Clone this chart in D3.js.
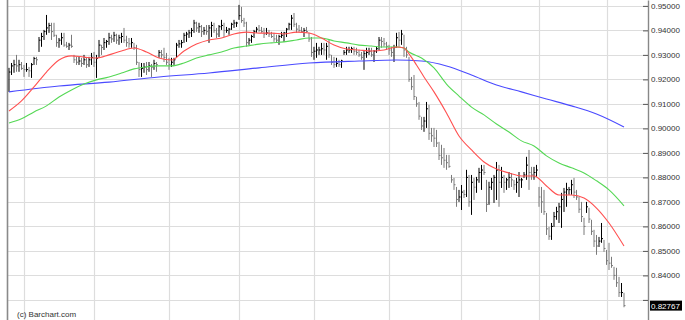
<!DOCTYPE html>
<html>
<head>
<meta charset="utf-8">
<title>Barchart</title>
<style>
  body { margin: 0; background: #fff; }
  svg { display: block; }
  text { font-family: "Liberation Sans", Arial, sans-serif; }
</style>
</head>
<body>
<script src="https://d3js.org/d3.v7.min.js"></script>
<script>
var width = 685, height = 320;

// daily bars: high / low / close
var highs = [
  .9247,.9267,.9280,.9300,.9280,.9271,.9259,.9267,.9251,.9267,
  .9292,.9292,.9373,.9390,.9402,.9463,.9431,.9431,.9431,.9382,
  .9369,.9390,.9390,.9353,.9349,.9382,.9300,.9292,.9292,.9288,
  .9300,.9288,.9292,.9308,.9312,.9300,.9361,.9341,.9369,.9361,
  .9390,.9382,.9394,.9386,.9382,.9390,.9410,.9378,.9369,.9369,
  .9349,.9341,.9271,.9267,.9267,.9271,.9271,.9263,.9280,.9271,
  .9320,.9320,.9329,.9308,.9288,.9288,.9288,.9349,.9361,.9361,
  .9390,.9394,.9402,.9410,.9443,.9435,.9431,.9422,.9414,.9422,
  .9422,.9435,.9431,.9410,.9422,.9443,.9431,.9414,.9410,.9431,
  .9443,.9435,.9504,.9496,.9451,.9435,.9369,.9382,.9402,.9414,
  .9422,.9414,.9410,.9410,.9402,.9394,.9390,.9382,.9382,.9394,
  .9394,.9410,.9431,.9463,.9471,.9431,.9422,.9414,.9410,.9414,
  .9390,.9373,.9333,.9349,.9333,.9349,.9349,.9349,.9361,.9300,
  .9292,.9288,.9280,.9280,.9320,.9333,.9333,.9333,.9333,.9329,
  .9320,.9312,.9320,.9329,.9329,.9329,.9320,.9333,.9373,.9373,
  .9369,.9353,.9341,.9333,.9341,.9390,.9394,.9402,.9382,.9333,
  .9292,.9210,.9218,.9129,.9108,.9047,.9047,.9108,.9096,.9002,
  .9002,.8994,.8945,.8933,.8920,.8892,.8892,.8810,.8798,.8761,
  .8749,.8769,.8749,.8831,.8810,.8810,.8798,.8802,.8839,.8851,
  .8851,.8790,.8782,.8798,.8810,.8863,.8851,.8843,.8810,.8798,
  .8822,.8818,.8790,.8798,.8822,.8798,.8822,.8884,.8912,.8843,
  .8843,.8851,.8761,.8761,.8749,.8655,.8598,.8614,.8659,.8680,
  .8696,.8737,.8757,.8778,.8761,.8790,.8798,.8749,.8720,.8700,
  .8635,.8700,.8676,.8627,.8586,.8565,.8557,.8614,.8545,.8504,
  .8533,.8476,.8435,.8431,.8394,.8369,.8329
];
var lows = [
  .9149,.9218,.9227,.9231,.9231,.9239,.9210,.9231,.9210,.9206,
  .9259,.9259,.9312,.9333,.9361,.9382,.9390,.9361,.9373,.9333,
  .9329,.9341,.9333,.9329,.9320,.9329,.9267,.9259,.9259,.9251,
  .9259,.9247,.9251,.9259,.9251,.9206,.9288,.9300,.9320,.9329,
  .9341,.9349,.9353,.9345,.9341,.9349,.9349,.9333,.9329,.9329,
  .9320,.9259,.9210,.9210,.9227,.9218,.9231,.9210,.9239,.9231,
  .9288,.9288,.9271,.9259,.9239,.9251,.9259,.9288,.9329,.9329,
  .9349,.9353,.9369,.9373,.9390,.9394,.9390,.9373,.9382,.9382,
  .9349,.9373,.9390,.9369,.9373,.9402,.9373,.9390,.9382,.9402,
  .9410,.9414,.9443,.9431,.9414,.9333,.9341,.9349,.9369,.9390,
  .9394,.9390,.9369,.9382,.9373,.9369,.9353,.9349,.9341,.9369,
  .9353,.9373,.9402,.9402,.9414,.9390,.9394,.9390,.9373,.9390,
  .9353,.9292,.9280,.9288,.9300,.9300,.9300,.9280,.9288,.9259,
  .9247,.9251,.9251,.9247,.9300,.9300,.9308,.9308,.9300,.9300,
  .9292,.9280,.9239,.9288,.9300,.9292,.9271,.9308,.9320,.9329,
  .9333,.9320,.9300,.9292,.9271,.9329,.9333,.9341,.9292,.9288,
  .9190,.9157,.9116,.9088,.9035,.8994,.8986,.9002,.8953,.8945,
  .8924,.8924,.8871,.8851,.8839,.8831,.8839,.8778,.8749,.8680,
  .8700,.8667,.8716,.8720,.8680,.8647,.8708,.8737,.8778,.8749,
  .8810,.8659,.8688,.8749,.8696,.8708,.8680,.8757,.8737,.8749,
  .8757,.8761,.8749,.8737,.8720,.8757,.8798,.8790,.8749,.8790,
  .8790,.8802,.8680,.8655,.8647,.8565,.8545,.8545,.8598,.8627,
  .8614,.8594,.8659,.8680,.8729,.8729,.8716,.8708,.8655,.8618,
  .8565,.8655,.8614,.8565,.8516,.8484,.8516,.8533,.8496,.8443,
  .8422,.8431,.8382,.8353,.8312,.8312,.8270
];
var closes = [
  .9230,.9255,.9260,.9255,.9260,.9245,.9240,.9240,.9235,.9260,
  .9285,.9280,.9360,.9375,.9395,.9410,.9420,.9395,.9380,.9350,
  .9360,.9370,.9340,.9335,.9340,.9335,.9280,.9270,.9275,.9265,
  .9280,.9260,.9280,.9290,.9270,.9285,.9340,.9330,.9350,.9355,
  .9370,.9365,.9380,.9360,.9370,.9375,.9360,.9350,.9345,.9350,
  .9330,.9270,.9240,.9245,.9250,.9240,.9255,.9250,.9265,.9260,
  .9310,.9300,.9290,.9270,.9260,.9270,.9280,.9340,.9345,.9350,
  .9380,.9385,.9390,.9400,.9430,.9410,.9415,.9395,.9400,.9395,
  .9410,.9420,.9400,.9385,.9415,.9420,.9400,.9400,.9405,.9425,
  .9430,.9430,.9460,.9440,.9430,.9350,.9360,.9375,.9395,.9405,
  .9400,.9395,.9385,.9390,.9385,.9375,.9365,.9360,.9375,.9380,
  .9390,.9405,.9425,.9450,.9425,.9405,.9400,.9395,.9400,.9395,
  .9365,.9310,.9315,.9320,.9320,.9325,.9320,.9335,.9300,.9270,
  .9260,.9265,.9260,.9275,.9310,.9320,.9320,.9325,.9315,.9310,
  .9300,.9290,.9305,.9310,.9315,.9300,.9315,.9325,.9360,.9355,
  .9345,.9335,.9320,.9310,.9330,.9370,.9360,.9385,.9320,.9300,
  .9200,.9170,.9130,.9100,.9050,.9010,.9030,.9080,.8980,.8970,
  .8960,.8940,.8890,.8880,.8870,.8860,.8845,.8790,.8770,.8710,
  .8720,.8740,.8730,.8800,.8700,.8780,.8760,.8790,.8820,.8830,
  .8820,.8690,.8760,.8780,.8800,.8830,.8780,.8800,.8780,.8790,
  .8800,.8790,.8770,.8780,.8790,.8790,.8810,.8850,.8820,.8810,
  .8820,.8830,.8720,.8700,.8660,.8590,.8560,.8600,.8640,.8660,
  .8680,.8710,.8740,.8750,.8750,.8770,.8740,.8720,.8670,.8640,
  .8600,.8680,.8630,.8580,.8540,.8520,.8540,.8550,.8510,.8460,
  .8450,.8440,.8400,.8370,.8330,.8330,.82767
];

// moving averages, [bar, value]
var maRed = [
  [0,.9071],[5,.9112],[10,.9169],[15,.9230],[20,.9279],[25,.9296],[30,.9291],[35,.9287],
  [40,.9300],[45,.9316],[50,.9328],[55,.9312],[60,.9287],[65,.9279],[70,.9316],[75,.9344],
  [80,.9361],[85,.9369],[90,.9385],[95,.9393],[100,.9389],[105,.9389],[110,.9385],[115,.9393],
  [120,.9389],[125,.9369],[130,.9340],[135,.9324],[140,.9320],[145,.9316],[150,.9320],[155,.9332],
  [158,.9328],[160,.9304],[163,.9259],[166,.9210],[170,.9149],[175,.9063],[180,.8969],[185,.8912],
  [190,.8863],[195,.8834],[200,.8818],[205,.8806],[210,.8806],[215,.8765],[220,.8728],[225,.8728],
  [230,.8716],[235,.8675],[240,.8614],[246,.8520]
];
var maGreen = [
  [0,.9022],[5,.9039],[10,.9067],[15,.9092],[20,.9128],[25,.9157],[30,.9181],[35,.9198],
  [40,.9210],[45,.9226],[50,.9243],[55,.9251],[60,.9255],[65,.9255],[70,.9267],[75,.9287],
  [80,.9300],[85,.9312],[90,.9328],[95,.9336],[100,.9344],[105,.9349],[110,.9353],[115,.9361],
  [120,.9369],[125,.9369],[130,.9357],[135,.9349],[140,.9340],[145,.9336],[150,.9332],[155,.9332],
  [158,.9328],[160,.9312],[165,.9287],[170,.9247],[175,.9181],[180,.9132],[185,.9087],[190,.9055],
  [195,.9018],[200,.8985],[205,.8949],[210,.8928],[215,.8888],[220,.8859],[225,.8839],[230,.8818],
  [235,.8786],[240,.8749],[246,.8684]
];
var maBlue = [
  [0,.9149],[20,.9173],[40,.9189],[60,.9210],[80,.9226],[100,.9247],[120,.9267],[140,.9275],
  [155,.9279],[165,.9275],[175,.9255],[185,.9218],[195,.9177],[205,.9149],[215,.9120],[225,.9092],
  [235,.9059],[246,.9006]
];

var yTicks = [0.83,0.84,0.85,0.86,0.87,0.88,0.89,0.90,0.91,0.92,0.93,0.94,0.95];
var monthStarts = [6, 34, 64, 92, 122, 152, 181, 212, 239];
var lastPrice = closes[closes.length - 1];

var svg = d3.select("body").append("svg")
  .attr("width", width)
  .attr("height", height);

var x = d3.scaleLinear().domain([0, highs.length - 1]).range([9, 624]);
var y = d3.scaleLinear().domain([0.8218, 0.9524]).range([height, 0]);

// grid
svg.append("g").selectAll("line").data(yTicks).enter().append("line")
  .attr("x1", 8).attr("x2", 648)
  .attr("y1", function(d){ return Math.round(y(d)) + 0.5; })
  .attr("y2", function(d){ return Math.round(y(d)) + 0.5; })
  .attr("stroke", "#dddddd").attr("stroke-width", 1.2);
svg.append("g").selectAll("line").data(monthStarts).enter().append("line")
  .attr("x1", function(d){ return Math.round(x(d)) + 0.5; })
  .attr("x2", function(d){ return Math.round(x(d)) + 0.5; })
  .attr("y1", 0).attr("y2", height)
  .attr("stroke", "#dddddd").attr("stroke-width", 1.2);

// left border
svg.append("line").attr("x1", 7.5).attr("x2", 7.5).attr("y1", 0).attr("y2", height)
  .attr("stroke", "#8a8a8a").attr("stroke-width", 1.6);

// bars
var idx = d3.range(highs.length);
function barColor(i){ return (i > 0 && closes[i] < closes[i-1]) ? "#7a7a7a" : "#000"; }
var bars = svg.append("g");
bars.selectAll(".hl").data(idx).enter().append("line")
  .attr("x1", function(i){ return x(i); })
  .attr("x2", function(i){ return x(i); })
  .attr("y1", function(i){ return y(highs[i]); })
  .attr("y2", function(i){ return y(lows[i]); })
  .attr("stroke", barColor).attr("stroke-width", 1);
bars.selectAll(".cl").data(idx).enter().append("line")
  .attr("x1", function(i){ return x(i); })
  .attr("x2", function(i){ return x(i) + 1.5; })
  .attr("y1", function(i){ return y(closes[i]); })
  .attr("y2", function(i){ return y(closes[i]); })
  .attr("stroke", barColor).attr("stroke-width", 1);

// moving averages
var line = d3.line()
  .x(function(d){ return x(d[0]); })
  .y(function(d){ return y(d[1]); })
  .curve(d3.curveMonotoneX);
[[maBlue, "#4a4aff"], [maGreen, "#55d855"], [maRed, "#ff5050"]].forEach(function(s){
  svg.append("path").datum(s[0]).attr("d", line)
    .attr("fill", "none").attr("stroke", s[1]).attr("stroke-width", 1.1);
});

// right axis
var axis = svg.append("g").attr("transform", "translate(648,0)")
  .call(d3.axisRight(y).tickValues(yTicks).tickSize(-5).tickSizeOuter(0).tickPadding(3)
    .tickFormat(function(d){ return Math.abs(y(d) - y(lastPrice)) < 9 ? "" : d3.format(".5f")(d); }));
axis.select(".domain").attr("stroke", "#888").attr("stroke-width", 1.4);
axis.selectAll(".tick line").attr("stroke", "#555");
axis.selectAll(".tick text").attr("fill", "#333").style("font-size", "8px")
  .style("font-family", "'Liberation Sans', Arial, sans-serif");

// last price label
svg.append("rect").attr("x", 650).attr("y", y(lastPrice) - 5)
  .attr("width", 32).attr("height", 10).attr("fill", "#000");
svg.append("text").attr("x", 651).attr("y", y(lastPrice) + 3)
  .attr("fill", "#fff").style("font-size", "8px")
  .text(d3.format(".5f")(lastPrice));

svg.append("text").attr("x", 17).attr("y", 317)
  .attr("fill", "#333").style("font-size", "8px")
  .text("(c) Barchart.com");
</script>
</body>
</html>
